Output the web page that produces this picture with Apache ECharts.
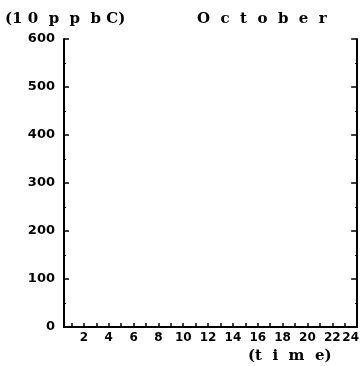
<!DOCTYPE html>
<html>
<head>
<meta charset="utf-8">
<script src="https://cdn.jsdelivr.net/npm/echarts@6/dist/echarts.min.js"></script>
<style>html,body{margin:0;padding:0;background:#fff}#c{width:362px;height:366px}</style>
</head>
<body>
<div id="c"></div>
<script>
// Data (the reference panel contains no plotted series)
var hours = [1,2,3,4,5,6,7,8,9,10,11,12,13,14,15,16,17,18,19,20,21,22,23,24];
var hourLabels = [2,4,6,8,10,12,14,16,18,20,22,24];
var yTicks = [0,100,200,300,400,500,600];
var seriesValues = [];
var unitLabel = '(1 0  p  p  b C)';
var monthLabel = 'O  c  t  o  b  e  r';
var xName = '(t  i  m  e)';

var chart = echarts.init(document.getElementById('c'), null, {renderer: 'canvas'});
var axisLine = {show: true, lineStyle: {color: '#000', width: 2}};
var labelFont = {fontFamily: 'DejaVu Sans', fontWeight: 'bold', fontSize: 13, color: '#000'};
var xLabelFont = {fontFamily: 'DejaVu Sans', fontWeight: 'bold', fontSize: 12, color: '#000'};
var titleFont = {fontFamily: 'DejaVu Serif', fontWeight: 'bold', fontSize: 15, fill: '#000'};
var lastHour = hourLabels[hourLabels.length - 1];

chart.setOption({
  animation: false,
  backgroundColor: '#fff',
  grid: {left: 64, right: 3, top: 39, bottom: 39, containLabel: false},
  xAxis: [{
    type: 'value', min: 0.4, max: 24, position: 'bottom',
    axisLine: axisLine,
    splitLine: {show: false},
    axisTick: {show: true, inside: true, length: 4, customValues: hours, lineStyle: {color: '#000', width: 1.5}},
    axisLabel: Object.assign({
      show: true, margin: 5, customValues: hourLabels,
      formatter: function (v) { return v === lastHour ? '{e|' + v + '}' : String(v); },
      rich: {e: Object.assign({padding: [0, 13, 0, 0]}, xLabelFont)}
    }, xLabelFont)
  }, {
    type: 'value', min: 0.4, max: 24, position: 'top',
    axisLine: axisLine, splitLine: {show: false},
    axisTick: {show: false}, axisLabel: {show: false}
  }],
  yAxis: [{
    type: 'value', min: 0, max: 600, interval: 100, position: 'left',
    axisLine: axisLine, splitLine: {show: false},
    axisTick: {show: true, inside: true, length: 5, customValues: yTicks, lineStyle: {color: '#000', width: 1.5}},
    minorTick: {show: true, splitNumber: 2, length: 2, lineStyle: {color: '#000', width: 1}},
    axisLabel: Object.assign({show: true, margin: 9, customValues: yTicks}, labelFont)
  }, {
    type: 'value', min: 0, max: 600, interval: 100, position: 'right',
    axisLine: axisLine, splitLine: {show: false},
    axisTick: {show: true, inside: true, length: 6, lineStyle: {color: '#000', width: 1.5}},
    minorTick: {show: true, splitNumber: 2, length: 2, lineStyle: {color: '#000', width: 1}},
    axisLabel: {show: false}
  }],
  series: [{type: 'line', data: seriesValues, xAxisIndex: 0, yAxisIndex: 0}],
  graphic: [
    {type: 'text', left: 5, top: 12, style: Object.assign({text: unitLabel}, titleFont)},
    {type: 'text', left: 197, top: 12, style: Object.assign({text: monthLabel}, titleFont)},
    {type: 'text', left: 248, top: 349, style: Object.assign({text: xName}, titleFont)}
  ]
});
</script>
</body>
</html>
